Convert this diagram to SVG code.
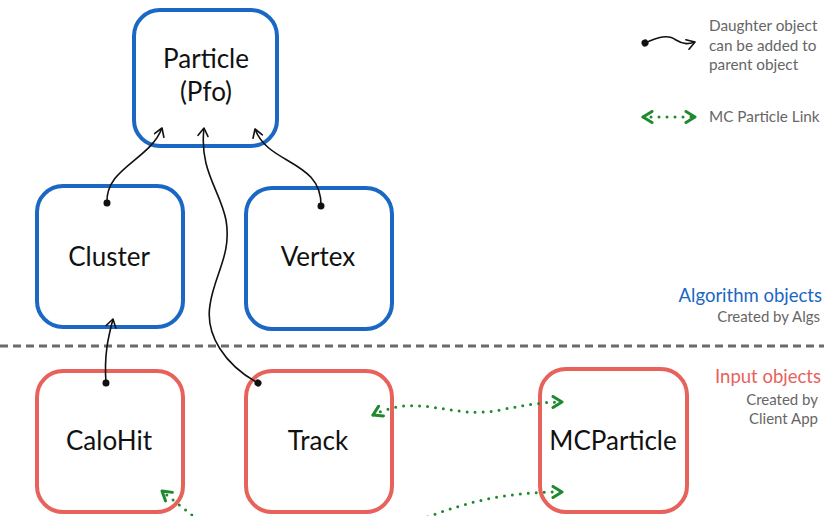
<svg xmlns="http://www.w3.org/2000/svg" width="824" height="516" viewBox="0 0 824 516">
<defs>
<style>
.box{fill:#fff;stroke-width:4;}
.alg{stroke:#1a67c4;}
.inp{stroke:#e8625c;}
.lbl{font-family:Lato,"Open Sans",sans-serif;font-size:26px;fill:#111;text-anchor:middle;}
.leg{font-family:Lato,"Open Sans",sans-serif;font-size:15.3px;fill:#666;}
.side{font-family:Lato,"Open Sans",sans-serif;text-anchor:end;}
.conn{fill:none;stroke:#111;stroke-width:1.6;marker-start:url(#dot);marker-end:url(#arr);}
.mc{fill:none;stroke:#1d8a2e;stroke-width:3;stroke-linecap:round;stroke-dasharray:0 8;}
</style>
<marker id="dot" viewBox="-4 -4 8 8" markerWidth="8" markerHeight="8" markerUnits="userSpaceOnUse" orient="auto">
<circle r="3.5" fill="#111"/>
</marker>
<marker id="arr" viewBox="-10 -6 12 12" markerWidth="12" markerHeight="12" markerUnits="userSpaceOnUse" orient="auto">
<path d="M-8,-5 L0,0 L-8,5" fill="none" stroke="#111" stroke-width="1.6" stroke-linecap="round" stroke-linejoin="round"/>
</marker>
<marker id="garr" viewBox="-12 -7 14 14" markerWidth="14" markerHeight="14" markerUnits="userSpaceOnUse" orient="auto-start-reverse">
<path d="M-9,-5.5 L0,0 L-9,5.5" fill="none" stroke="#1d8a2e" stroke-width="3" stroke-linecap="round" stroke-linejoin="round"/>
</marker>
</defs>
<rect width="824" height="516" fill="#fff"/>

<line x1="0" y1="346" x2="824" y2="346" stroke="#6b6b6b" stroke-width="3" stroke-dasharray="8 5"/>

<g id="particle">
<rect class="box alg" x="134" y="10" width="143" height="136" rx="26"/>
<text class="lbl" x="206" y="68">Particle</text>
<text class="lbl" x="206" y="101">(Pfo)</text>
</g>
<g id="cluster">
<rect class="box alg" x="37" y="186" width="146" height="141" rx="26"/>
<text class="lbl" x="109" y="266">Cluster</text>
</g>
<g id="vertex">
<rect class="box alg" x="246" y="188" width="146" height="141" rx="26"/>
<text class="lbl" x="318" y="266">Vertex</text>
</g>
<g id="calohit">
<rect class="box inp" x="37" y="371" width="146" height="141" rx="26"/>
<text class="lbl" x="109" y="450">CaloHit</text>
</g>
<g id="track">
<rect class="box inp" x="246" y="371" width="146" height="141" rx="26"/>
<text class="lbl" x="318" y="450">Track</text>
</g>
<g id="mcparticle">
<rect class="box inp" x="540" y="369" width="147" height="143" rx="26"/>
<text class="lbl" x="613" y="450">MCParticle</text>
</g>

<g id="connectors">
<path class="conn" d="M107,203 C105,168 150,160 162,128"/>
<path class="conn" d="M321,206 C322,160 268,165 255,129"/>
<path class="conn" d="M258,383 C225,365 205,335 210,305 C214,275 232,255 226,220 C220,190 199,170 204,128"/>
<path class="conn" d="M106,383 C104,355 108,338 113,319"/>
<path class="mc" d="M373,415 C420,392 450,420 500,410 C530,404 545,402 562,402" marker-start="url(#garr)" marker-end="url(#garr)"/>
<path class="mc" d="M420,520 C470,500 510,492 562,492" marker-end="url(#garr)"/>
<path class="mc" d="M198,520 L162,491" marker-end="url(#garr)"/>
</g>

<g id="legend">
<path class="conn" d="M645,43 C658,37 668,34 676,40 C684,45 689,44 695,42"/>
<text class="leg" x="709" y="31">Daughter object</text>
<text class="leg" x="709" y="51">can be added to</text>
<text class="leg" x="709" y="70">parent object</text>
<path class="mc" d="M643,117 L695,117" marker-start="url(#garr)" marker-end="url(#garr)"/>
<text class="leg" x="709" y="122">MC Particle Link</text>
</g>

<g id="side-labels">
<text class="side" x="822" y="302" font-size="18.5" fill="#1a67c4">Algorithm objects</text>
<text class="side" x="820" y="322" font-size="15" fill="#666">Created by Algs</text>
<text class="side" x="821" y="383" font-size="18.5" fill="#e8625c">Input objects</text>
<text class="side" x="818" y="405" font-size="15" fill="#666">Created by</text>
<text class="side" x="818" y="424" font-size="15" fill="#666">Client App</text>
</g>
</svg>
